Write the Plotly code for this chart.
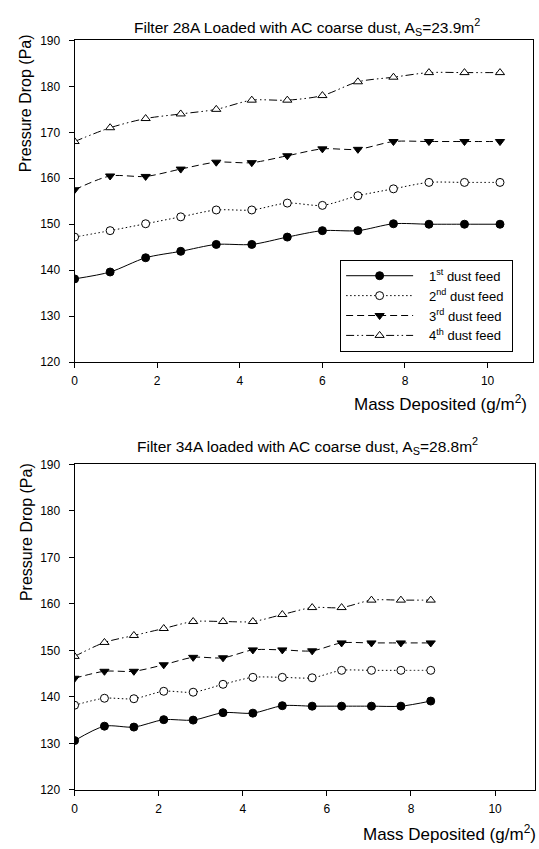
import plotly.graph_objects as go

# ---- data ----
top_x = [0, 0.86, 1.72, 2.57, 3.43, 4.29, 5.15, 6.0, 6.86, 7.72, 8.58, 9.44, 10.3]
top_feed1 = [138.1, 139.6, 142.7, 144.1, 145.6, 145.6, 147.2, 148.6, 148.6, 150.1, 150.0, 150.0, 150.0]
top_feed2 = [147.2, 148.6, 150.1, 151.6, 153.1, 153.1, 154.6, 154.1, 156.2, 157.7, 159.1, 159.1, 159.1]
top_feed3 = [157.5, 160.5, 160.4, 162.0, 163.5, 163.4, 164.9, 166.4, 166.3, 168.0, 168.0, 168.0, 168.0]
top_feed4 = [168.0, 171.0, 173.0, 174.0, 175.0, 177.0, 177.0, 178.0, 181.0, 182.0, 183.0, 183.0, 183.0]

bot_x = [0, 0.71, 1.41, 2.12, 2.82, 3.53, 4.24, 4.94, 5.65, 6.35, 7.06, 7.76, 8.47]
bot_feed1 = [130.6, 133.7, 133.5, 135.1, 135.0, 136.6, 136.5, 138.1, 138.0, 138.0, 138.0, 138.0, 139.1]
bot_feed2 = [138.2, 139.7, 139.6, 141.2, 141.0, 142.7, 144.2, 144.2, 144.1, 145.7, 145.7, 145.7, 145.7]
bot_feed3 = [144.0, 145.5, 145.5, 146.9, 148.5, 148.4, 150.1, 150.1, 149.9, 151.6, 151.6, 151.6, 151.6]
bot_feed4 = [148.7, 151.7, 153.2, 154.7, 156.2, 156.2, 156.2, 157.7, 159.2, 159.2, 160.8, 160.8, 160.8]

series_names = ["1<sup>st</sup> dust feed", "2<sup>nd</sup> dust feed",
                "3<sup>rd</sup> dust feed", "4<sup>th</sup> dust feed"]
titles = ["Filter 28A Loaded with AC coarse dust, A<sub>S</sub>=23.9m<sup>2</sup>",
          "Filter 34A loaded with AC coarse dust, A<sub>S</sub>=28.8m<sup>2</sup>"]
x_title = "Mass Deposited (g/m<sup>2</sup>)"
y_title = "Pressure Drop (Pa)"

# ---- styles ----
W, H = 539, 849
FONT = "Liberation Sans, Arial, Helvetica, sans-serif"
styles = [
    dict(dash="solid", symbol="circle", fill="black"),
    dict(dash="1.5px,2.5px", symbol="circle", fill="white"),
    dict(dash="7px,4px", symbol="triangle-down", fill="black"),
    dict(dash="8px,3px,1.5px,3px,1.5px,3px", symbol="triangle-up", fill="white"),
]
PAD_L = "&nbsp;&nbsp;&nbsp;"
PAD_R = "&nbsp;"

fig = go.Figure()

def add_series(xs, ys_list, xa, ya, show):
    for i, ys in enumerate(ys_list):
        st = styles[i]
        fig.add_trace(go.Scatter(
            x=xs, y=ys, xaxis=xa, yaxis=ya, mode="lines+markers",
            name=PAD_L + series_names[i] + PAD_R, showlegend=show,
            line=dict(color="black", width=1, dash=st["dash"], shape="spline", smoothing=0.8),
            marker=dict(symbol=st["symbol"], size=8, color=st["fill"],
                        line=dict(color="black", width=1)),
        ))

add_series(top_x, [top_feed1, top_feed2, top_feed3, top_feed4], "x", "y", True)
add_series(bot_x, [bot_feed1, bot_feed2, bot_feed3, bot_feed4], "x2", "y2", False)

def px_x(p):
    return p / W

def px_y(p):
    return 1 - p / H

axis_common = dict(showline=True, linecolor="black", linewidth=1, mirror=True,
                   ticks="outside", ticklen=5, tickcolor="black", tickwidth=1,
                   showgrid=False, zeroline=False,
                   tickfont=dict(family=FONT, size=12, color="black"))

fig.update_layout(
    width=W, height=H,
    margin=dict(l=0, r=0, t=0, b=0),
    paper_bgcolor="white", plot_bgcolor="white",
    font=dict(family=FONT, color="black"),
    xaxis=dict(domain=[px_x(72), px_x(533)], range=[0, 11.1], dtick=2, anchor="y",
               ticklabelstandoff=3, **axis_common),
    yaxis=dict(domain=[px_y(361), px_y(34)], range=[120, 190], dtick=10, anchor="x",
               ticklabelstandoff=6, **axis_common),
    xaxis2=dict(domain=[px_x(72), px_x(535)], range=[0, 10.95], dtick=2, anchor="y2",
                ticklabelstandoff=3, **axis_common),
    yaxis2=dict(domain=[px_y(796), px_y(465)], range=[120, 190], dtick=10, anchor="x2",
                ticklabelstandoff=6, **axis_common),
    legend=dict(x=px_x(339), y=px_y(257), xanchor="left", yanchor="top",
                bordercolor="black", borderwidth=1, bgcolor="white",
                font=dict(family=FONT, size=13, color="black"),
                itemwidth=67, tracegroupgap=0),
)

ann = []
# titles
ann.append(dict(text=titles[0], x=px_x(306), y=px_y(20), xref="paper", yref="paper",
                xanchor="center", yanchor="middle", showarrow=False,
                font=dict(family=FONT, size=15.5, color="black")))
ann.append(dict(text=titles[1], x=px_x(306), y=px_y(446), xref="paper", yref="paper",
                xanchor="center", yanchor="middle", showarrow=False,
                font=dict(family=FONT, size=15.5, color="black")))
# x titles
ann.append(dict(text=x_title, x=px_x(529), y=px_y(403), xref="paper", yref="paper",
                xanchor="right", yanchor="middle", showarrow=False,
                font=dict(family=FONT, size=17, color="black")))
ann.append(dict(text=x_title, x=px_x(538), y=px_y(840), xref="paper", yref="paper",
                xanchor="right", yanchor="middle", showarrow=False,
                font=dict(family=FONT, size=17, color="black")))
# y titles
ann.append(dict(text=y_title, x=px_x(23), y=px_y(98), xref="paper", yref="paper",
                xanchor="center", yanchor="middle", showarrow=False, textangle=-90,
                font=dict(family=FONT, size=16, color="black")))
ann.append(dict(text=y_title, x=px_x(23), y=px_y(534), xref="paper", yref="paper",
                xanchor="center", yanchor="middle", showarrow=False, textangle=-90,
                font=dict(family=FONT, size=16, color="black")))
fig.update_layout(annotations=ann)

fig.write_html("out.html")
